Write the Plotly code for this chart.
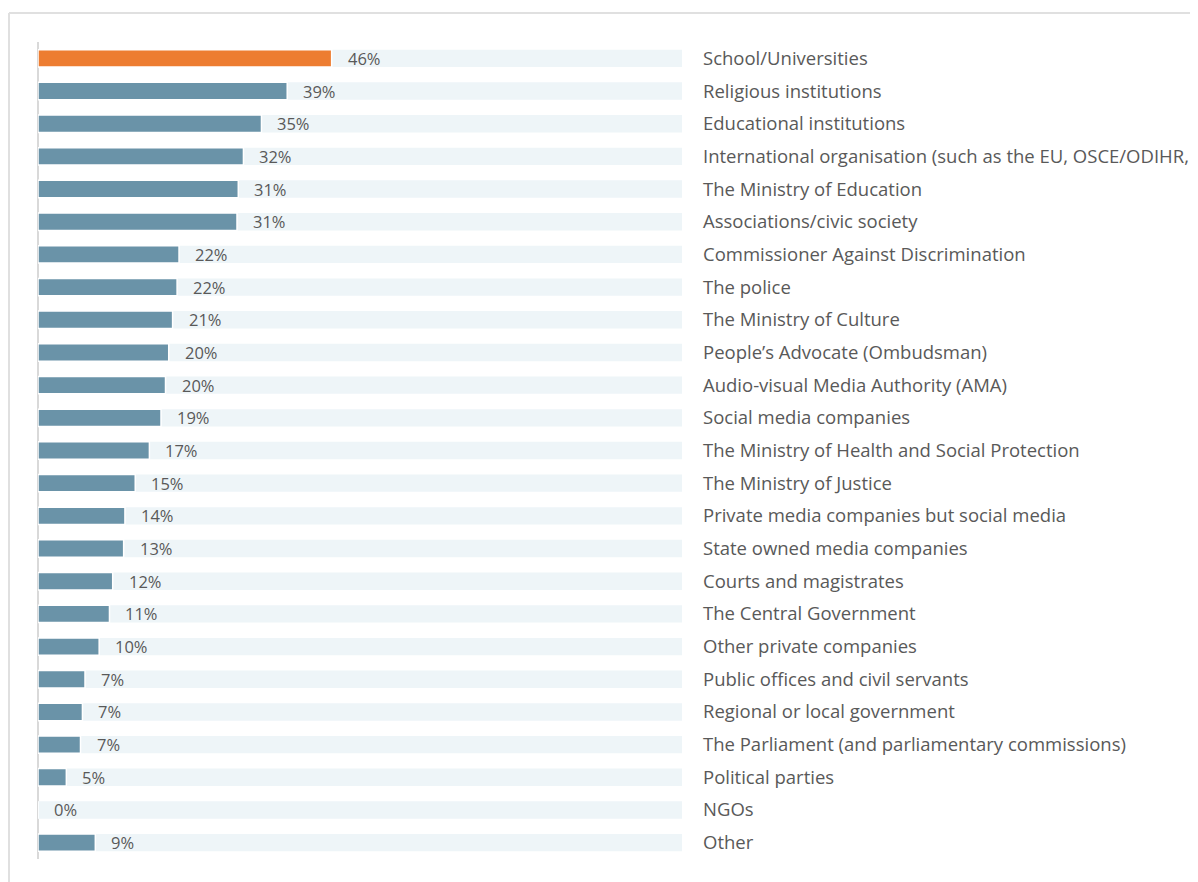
import plotly.graph_objects as go

ORANGE = "#ED7D31"
BLUE = "#6A93A8"
TRACK = "#EEF5F8"
TEXT = "#595959"
LINE = "#D9D9D9"
FRAME = "#E0E0E0"

categories = [
    "School/Universities",
    "Religious institutions",
    "Educational institutions",
    "International organisation (such as the EU, OSCE/ODIHR, etc.)",
    "The Ministry of Education",
    "Associations/civic society",
    "Commissioner Against Discrimination",
    "The police",
    "The Ministry of Culture",
    "People\u2019s Advocate (Ombudsman)",
    "Audio-visual Media Authority (AMA)",
    "Social media companies",
    "The Ministry of Health and Social Protection",
    "The Ministry of Justice",
    "Private media companies but social media",
    "State owned media companies",
    "Courts and magistrates",
    "The Central Government",
    "Other private companies",
    "Public offices and civil servants",
    "Regional or local government",
    "The Parliament (and parliamentary commissions)",
    "Political parties",
    "NGOs",
    "Other",
]
# labels as printed
values = [46, 39, 35, 32, 31, 31, 22, 22, 21, 20, 20, 19, 17, 15, 14, 13, 12, 11, 10, 7, 7, 7, 5, 0, 9]
# bar lengths as drawn (labels are rounded)
lengths = [45.6, 38.7, 34.7, 31.9, 31.1, 30.9, 21.9, 21.6, 20.9, 20.3, 19.8, 19.1, 17.3, 15.1, 13.5, 13.3, 11.6, 11.1, 9.5, 7.3, 6.9, 6.6, 4.4, 0.0, 8.9]
track = [100] * len(categories)

colors = [ORANGE] + [BLUE] * (len(categories) - 1)

fig = go.Figure()
fig.add_trace(go.Bar(
    y=categories, x=track, orientation="h",
    marker=dict(color=TRACK, line=dict(width=0)),
    hoverinfo="skip", showlegend=False,
))
fig.add_trace(go.Bar(
    y=categories, x=lengths, orientation="h",
    marker=dict(color=colors, line=dict(color="white", width=1.5)),
    showlegend=False,
))

for cat, v, ln in zip(categories, values, lengths):
    fig.add_annotation(
        x=ln, y=cat, text=f"{v}%", showarrow=False,
        xanchor="left", xshift=14,
        font=dict(family="Open Sans", size=16.5, color=TEXT),
    )

# outer frame (only left + top edges fall inside the window)
fig.add_shape(type="line", xref="paper", yref="paper",
              x0=-0.045, x1=-0.045, y0=-0.2, y1=1.0355,
              line=dict(color=FRAME, width=2))
fig.add_shape(type="line", xref="paper", yref="paper",
              x0=-0.045, x1=2.0, y0=1.0355, y1=1.0355,
              line=dict(color=FRAME, width=2))

fig.update_layout(
    width=1190, height=874,
    margin=dict(l=30, r=516, t=34, b=23, autoexpand=False),
    barmode="overlay", bargap=0.468,
    plot_bgcolor="white", paper_bgcolor="white",
    font=dict(family="Open Sans", color=TEXT),
)
fig.update_xaxes(
    range=[0, 100], showgrid=False, showticklabels=False, ticks="",
    zeroline=True, zerolinecolor=LINE, zerolinewidth=2, fixedrange=True,
    automargin=False,
)
fig.update_yaxes(
    side="right", autorange="reversed", showgrid=False, ticks="",
    ticklabelstandoff=20, tickfont=dict(family="Open Sans", size=18.5, color=TEXT),
    showline=False, zeroline=False, automargin=False,
)

fig.write_html("out.html")
